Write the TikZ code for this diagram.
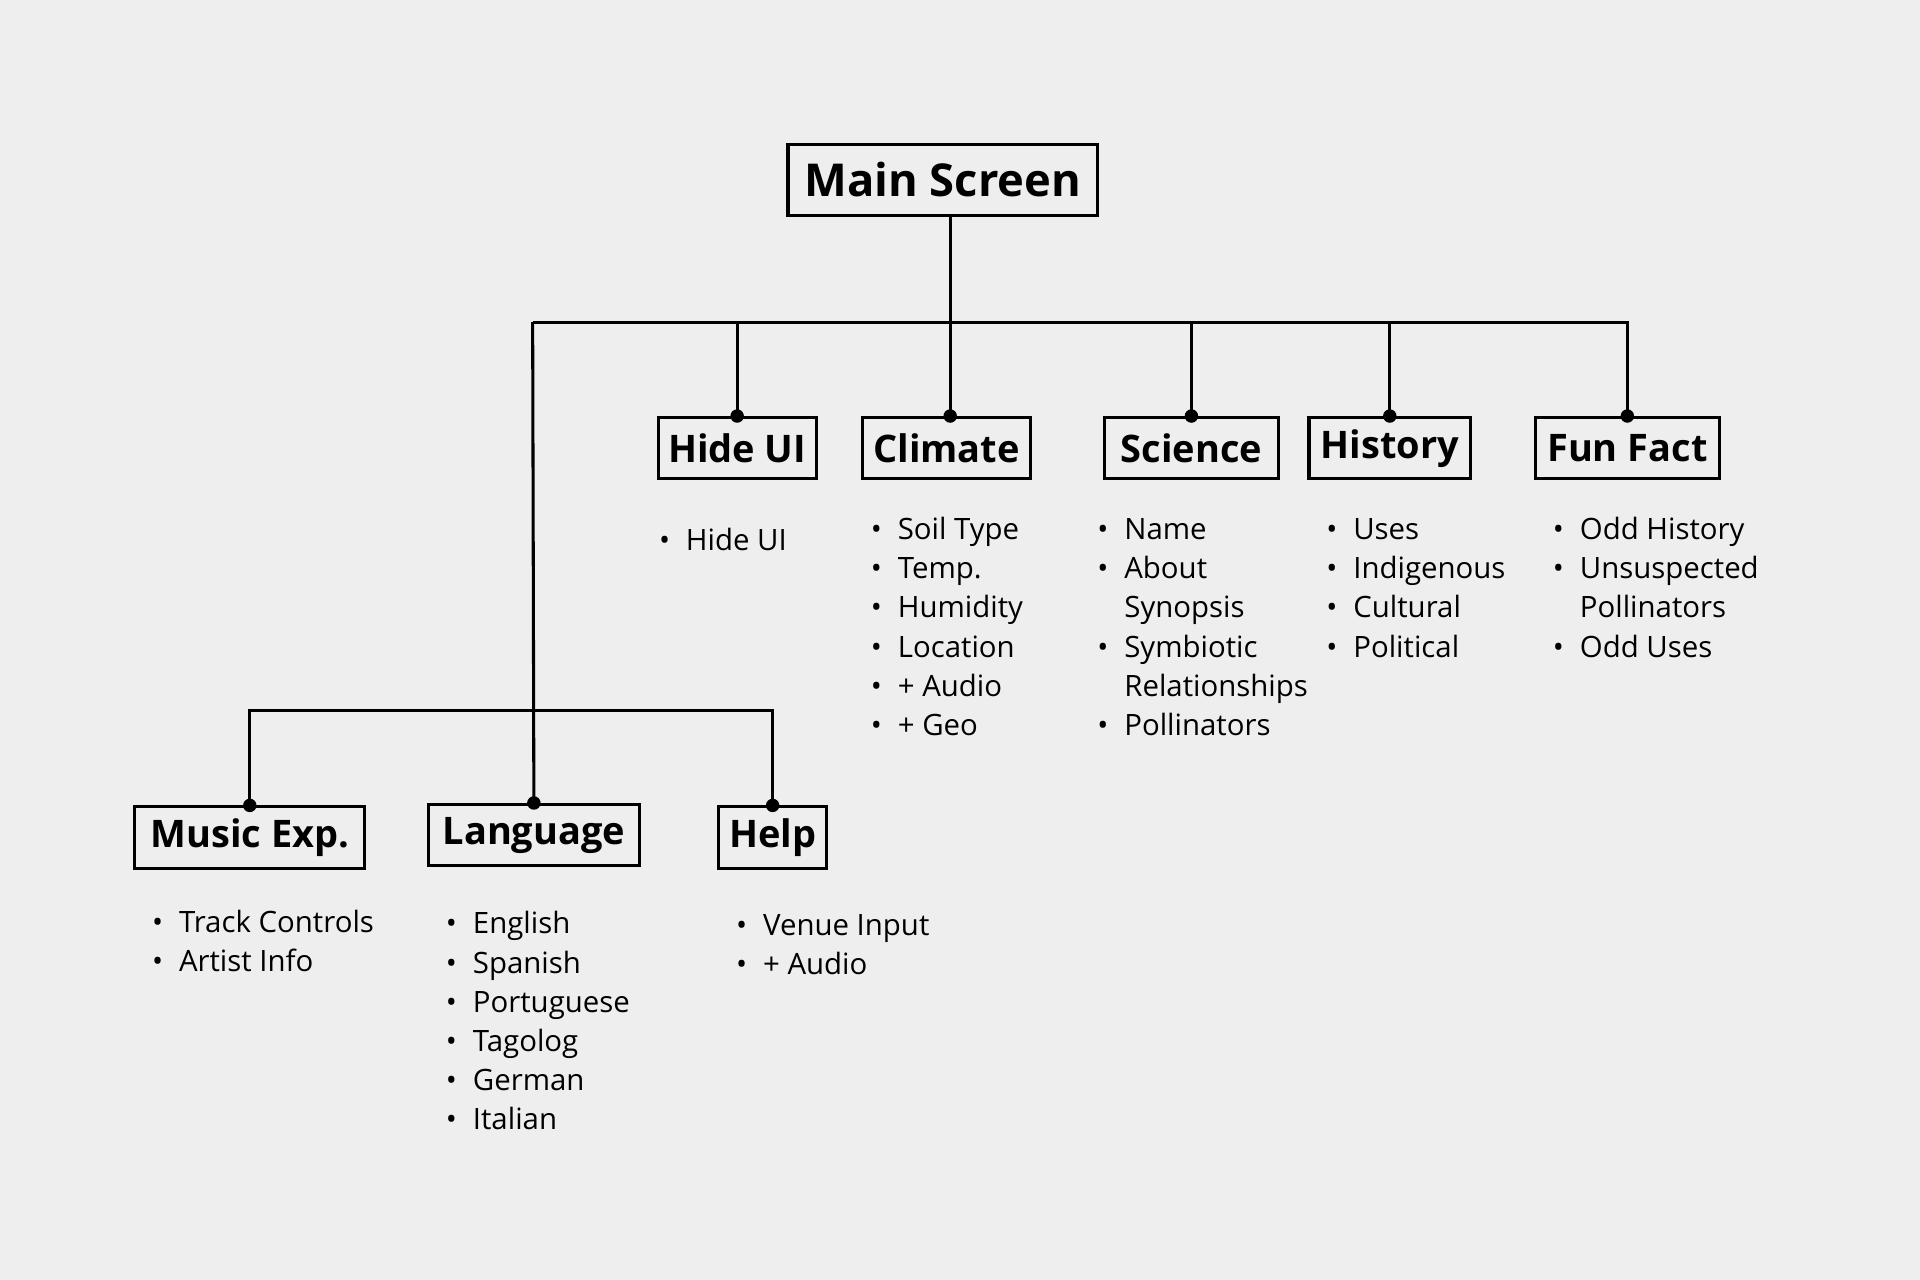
\documentclass[tikz,border=0pt]{standalone}
\usepackage{fontspec}
\setmainfont{Open Sans}
\definecolor{bg}{HTML}{EEEEEE}
\tikzset{
  box/.style={draw=black,line width=2.5pt,fill=bg,inner sep=0pt,minimum height=50pt,font=\fontsize{31}{36}\selectfont\bfseries},
  wire/.style={line width=2.5pt},
  dot/.style={circle,fill=black,inner sep=0pt,minimum size=11pt},
  lst/.style={anchor=north west,inner sep=0pt,font=\fontsize{24}{32}\selectfont}
}
\newcommand{\blist}[1]{\renewcommand\arraystretch{1}\begin{tabular}{@{}c@{\hspace{13pt}}l@{}}#1\end{tabular}}
\begin{document}
\begin{tikzpicture}[x=1pt,y=-1pt]
\fill[bg] (0,0) rectangle (1568,1045);
\useasboundingbox (0,0) rectangle (1568,1045);
\node[box,minimum width=253pt,minimum height=58pt,font=\fontsize{37}{42}\selectfont\bfseries] (main) at (770,147) {Main Screen};
\node[box,minimum width=129pt] (hide) at (602,366) {Hide UI};
\node[box,minimum width=137pt] (clim) at (773,366) {Climate};
\node[box,minimum width=142pt] (sci) at (973,366) {Science};
\node[box,minimum width=132pt] (hist) at (1135,366) {History};
\node[box,minimum width=150pt] (fun) at (1329,366) {Fun Fact};
\node[box,minimum width=188pt] (music) at (204,684) {Music Exp.};
\node[box,minimum width=172pt] (lang) at (436,682) {Language};
\node[box,minimum width=88pt] (help) at (631,684) {Help};
\coordinate (b1) at (776,263);
\coordinate (bl) at (435,263);
\coordinate (b2) at (435,580);
\draw[wire] (main.south -| b1) -- (b1);
\draw[wire] (bl) -- (fun.north |- bl) -- (fun.north);
\draw[wire] (hide.north |- bl) -- (hide.north);
\draw[wire] (b1) -- (b1 |- clim.north);
\draw[wire] (sci.north |- bl) -- (sci.north);
\draw[wire] (hist.north |- bl) -- (hist.north);
\draw[wire] (bl) -- (lang.north);
\draw[wire] (music.north) -- (music.north |- b2) -- (help.north |- b2) -- (help.north);
\foreach \n in {hide,sci,hist,fun,music,lang,help} \node[dot] (d\n) at (\n.north) {};
\node[dot] (dclim) at (b1 |- clim.north) {};
\node[lst] (lhide) at (538,427) {\blist{•&Hide UI}};
\node[lst] (lclim) at (711,418) {\blist{•&Soil Type\\•&Temp.\\•&Humidity\\•&Location\\•&+ Audio\\•&+ Geo}};
\node[lst] (lsci) at (896,418) {\blist{•&Name\\•&About\\&Synopsis\\•&Symbiotic\\&Relationships\\•&Pollinators}};
\node[lst] (lhist) at (1083,418) {\blist{•&Uses\\•&Indigenous\\•&Cultural\\•&Political}};
\node[lst] (lfun) at (1268,418) {\blist{•&Odd History\\•&Unsuspected\\&Pollinators\\•&Odd Uses}};
\node[lst] (lmusic) at (124,739) {\blist{•&Track Controls\\•&Artist Info}};
\node[lst] (llang) at (364,740) {\blist{•&English\\•&Spanish\\•&Portuguese\\•&Tagolog\\•&German\\•&Italian}};
\node[lst] (lhelp) at (601,741) {\blist{•&Venue Input\\•&+ Audio}};
\end{tikzpicture}
\end{document}
